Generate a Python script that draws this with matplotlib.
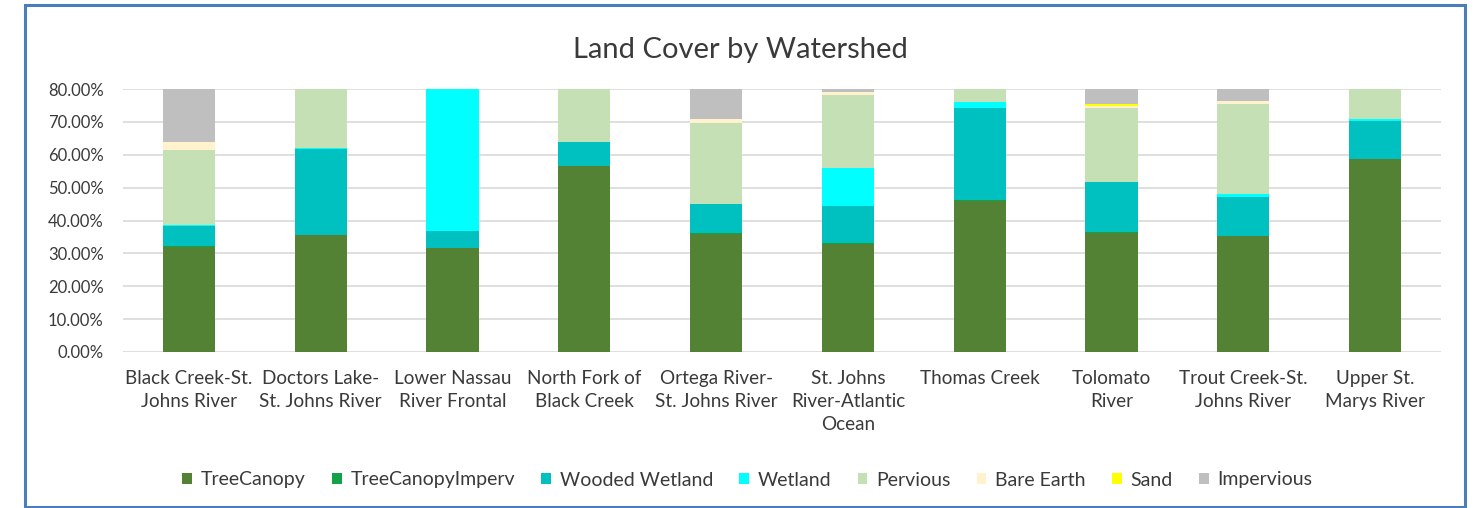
import numpy as np
import matplotlib.pyplot as plt
from matplotlib.patches import Rectangle

plt.rcParams["font.family"] = ["Lato", "DejaVu Sans"]

watersheds = [
    "Black Creek-St.\nJohns River",
    "Doctors Lake-\nSt. Johns River",
    "Lower Nassau\nRiver Frontal",
    "North Fork of\nBlack Creek",
    "Ortega River-\nSt. Johns River",
    "St. Johns\nRiver-Atlantic\nOcean",
    "Thomas Creek",
    "Tolomato\nRiver",
    "Trout Creek-St.\nJohns River",
    "Upper St.\nMarys River",
]

# shares in %, stacked bottom -> top (sum to 100, axis cut at 80)
tree_canopy = [32.0, 35.5, 31.5, 56.5, 36.0, 33.0, 46.0, 36.3, 35.2, 58.6]
tree_canopy_imperv = [0.2, 0.2, 0.1, 0.1, 0.3, 0.2, 0.1, 0.2, 0.2, 0.1]
wooded_wetland = [6.2, 26.2, 5.3, 7.3, 8.7, 11.2, 28.0, 15.1, 11.8, 11.6]
wetland = [0.1, 0.1, 63.1, 0.1, 0.1, 11.6, 2.0, 0.1, 0.8, 0.5]
pervious = [23.0, 38.0, 0.0, 36.0, 24.6, 22.1, 23.9, 22.4, 27.4, 29.2]
bare_earth = [2.5, 0.0, 0.0, 0.0, 1.3, 1.0, 0.0, 0.6, 1.0, 0.0]
sand = [0.0, 0.0, 0.0, 0.0, 0.0, 0.0, 0.0, 0.7, 0.0, 0.0]
impervious = [36.0, 0.0, 0.0, 0.0, 29.0, 20.9, 0.0, 24.6, 23.6, 0.0]

layers = [
    ("TreeCanopy", tree_canopy, "#548235"),
    ("TreeCanopyImperv", tree_canopy_imperv, "#13a14a"),
    ("Wooded Wetland", wooded_wetland, "#00c0c0"),
    ("Wetland", wetland, "#00ffff"),
    ("Pervious", pervious, "#c5e0b4"),
    ("Bare Earth", bare_earth, "#fff2cc"),
    ("Sand", sand, "#ffff00"),
    ("Impervious", impervious, "#bfbfbf"),
]

text_col = "#3a3a3a"

fig = plt.figure(figsize=(14.8, 5.08), dpi=100)
fig.patches.append(Rectangle((25 / 1480, 1 - 507 / 508), 1440 / 1480, 502 / 508,
                             transform=fig.transFigure, fill=False,
                             edgecolor="#4a7ebb", linewidth=2.2, zorder=10))

ax = fig.add_axes([123 / 1480, 1 - 352 / 508, 1318 / 1480, 263 / 508])
x = np.arange(len(watersheds))
bottom = np.zeros(len(watersheds))
for name, vals, col in layers:
    v = np.array(vals) / 100
    ax.bar(x, v, bottom=bottom, width=0.395, color=col, label=name, zorder=2)
    bottom += v

ax.set_ylim(0, 0.8)
ax.set_xlim(-0.5, len(watersheds) - 0.5)
ax.set_yticks(np.arange(0, 0.81, 0.1))
ax.set_yticklabels([f"{t * 100:.2f}%" for t in np.arange(0, 0.81, 0.1)],
                   fontsize=12, color=text_col)
ax.set_xticks(x)
ax.set_xticklabels(watersheds, fontsize=13.6, color=text_col, linespacing=1.42, va="top")
ax.tick_params(length=0, axis="both")
ax.tick_params(axis="x", pad=13)
ax.tick_params(axis="y", pad=14)
ax.grid(axis="y", color="#d9d9d9", linewidth=1.2, zorder=0)
for s in ax.spines.values():
    s.set_visible(False)

fig.text(0.5, 1 - 50 / 508, "Land Cover by Watershed", ha="center", va="center",
         fontsize=21, color=text_col)

fig.legend(loc="center", bbox_to_anchor=(0.505, 1 - 480 / 508), ncol=8,
           frameon=False, fontsize=14, handlelength=0.5, handleheight=0.5,
           handletextpad=0.45, columnspacing=1.35, labelcolor=text_col)

fig.savefig("out.png", dpi=100)
